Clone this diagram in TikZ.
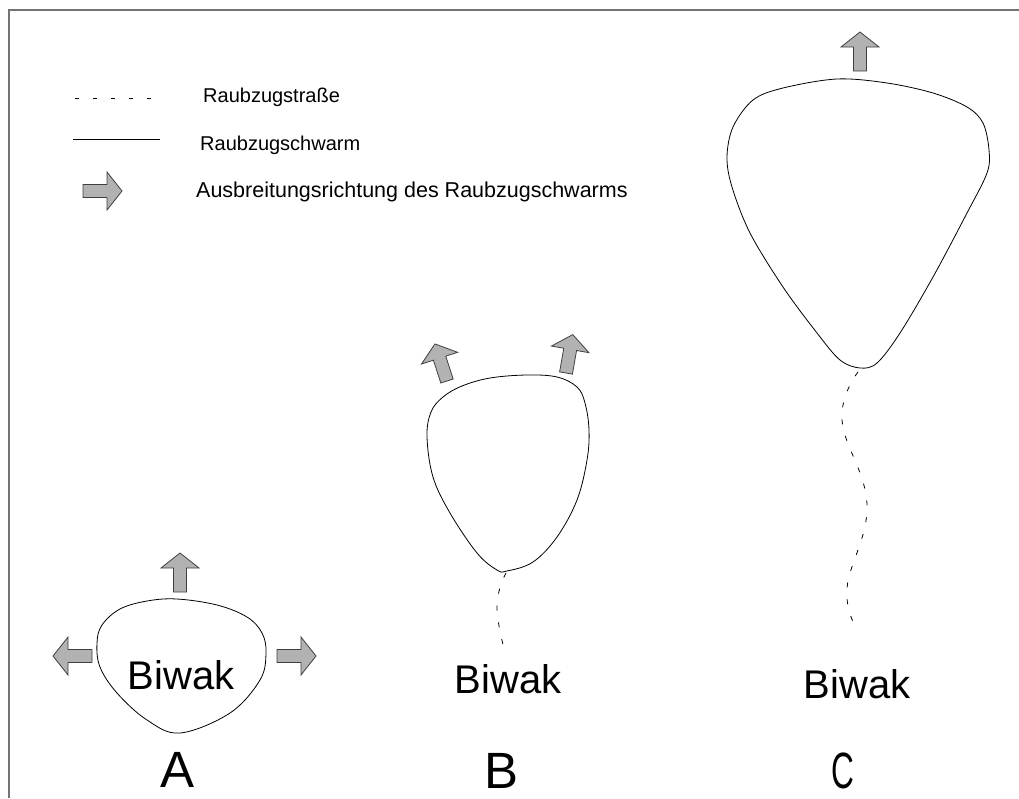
\documentclass[tikz,border=0pt]{standalone}
\usepackage{fontspec}
\setmainfont{Liberation Sans}
\newcommand\fatarrow[2]{%
  \draw[arrowbox, shift={#1}, rotate=#2]
    (0,-6.5) -- (24,-6.5) -- (24,-19) -- (39,0) -- (24,19) -- (24,6.5) -- (0,6.5) -- cycle;}
\begin{document}
\begin{tikzpicture}[x=1pt,y=-1pt,
  arrowbox/.style={fill=black!30, draw=black!75, line width=0.8pt, line join=miter},
  swarm/.style={draw=black, line width=0.8pt},
  trail/.style={draw=black, line width=0.8pt, dash pattern=on 5pt off 12pt},
  legtext/.style={anchor=base west, font=\fontsize{20}{24}\selectfont, inner sep=0pt},
  biwak/.style={anchor=base, font=\fontsize{40}{46}\selectfont, inner sep=0pt},
  letter/.style={anchor=base, font=\fontsize{51}{56}\selectfont, inner sep=0pt}]
\useasboundingbox (0,0) rectangle (1019,798);
\fill[white] (0,0) rectangle (1019,798);
% frame
\draw[draw=black!55, line width=1.5pt] (9,798) -- (9,10) -- (1019,10);

% legend
\draw[draw=black, line width=0.8pt, dash pattern=on 4pt off 14pt] (75,98) -- (156,98);
\node[legtext] (l1) at (203,102) {Raubzugstraße};
\draw[draw=black, line width=0.8pt] (73,139) -- (160,139);
\node[legtext] (l2) at (200,150) {Raubzugschwarm};
\fatarrow{(83,191)}{0}
\node[legtext, font=\fontsize{21.5}{24}\selectfont] (l3) at (196,197) {Ausbreitungsrichtung des Raubzugschwarms};

% A
\draw[swarm] plot[smooth cycle, tension=0.6] coordinates {
  (177,599) (217,605) (247,617) (262,633) (266,653) (260,680) (230,713) (180,733)
  (147,720) (117,693) (100,667) (97,643) (102,625) (120,609) (147,601)};
\node[biwak] (bA) at (181,689) {Biwak};
\node[letter] (A) at (178,787) {A};
\fatarrow{(180,592)}{90}
\fatarrow{(92,656)}{180}
\fatarrow{(277,656)}{0}

% B
\draw[swarm] plot[smooth cycle, tension=0.6] coordinates {
  (527,375) (557,377) (577,387) (585,403) (589,430) (587,460) (577,500) (557,537)
  (533,562) (507,571) (497,570) (477,553) (450,513) (433,477) (427,437) (431,412) (443,397) (462,386) (490,378)};
\coordinate (bBtop) at (506,573);
\coordinate (bBend) at (505,652);
\draw[trail] plot[smooth, tension=0.8] coordinates {(bBtop) (497,606) (bBend)};
\node[biwak] (bB) at (508,693) {Biwak};
\node[letter] (B) at (502,788) {B};
\fatarrow{(447,381)}{108}
\fatarrow{(566,373)}{80}

% C
\draw[swarm] plot[smooth cycle, tension=0.55] coordinates {
  (837,79) (887,83) (933,93) (967,107) (983,123) (989,150) (987,173) (967,213)
  (933,277) (900,333) (877,363) (860,368) (840,360) (817,333) (783,287) (750,233)
  (732,187) (727,157) (733,127) (753,100) (783,88)};
\coordinate (cCtop) at (858,372);
\coordinate (cCend) at (857,629);
\draw[trail] plot[smooth, tension=0.7] coordinates {(cCtop) (842,420) (867,505) (847,588) (cCend)};
\node[biwak] (bC) at (857,698) {Biwak};
\node[letter, xscale=0.62] (C) at (843,788) {C};
\fatarrow{(860,71)}{90}
\end{tikzpicture}
\end{document}
